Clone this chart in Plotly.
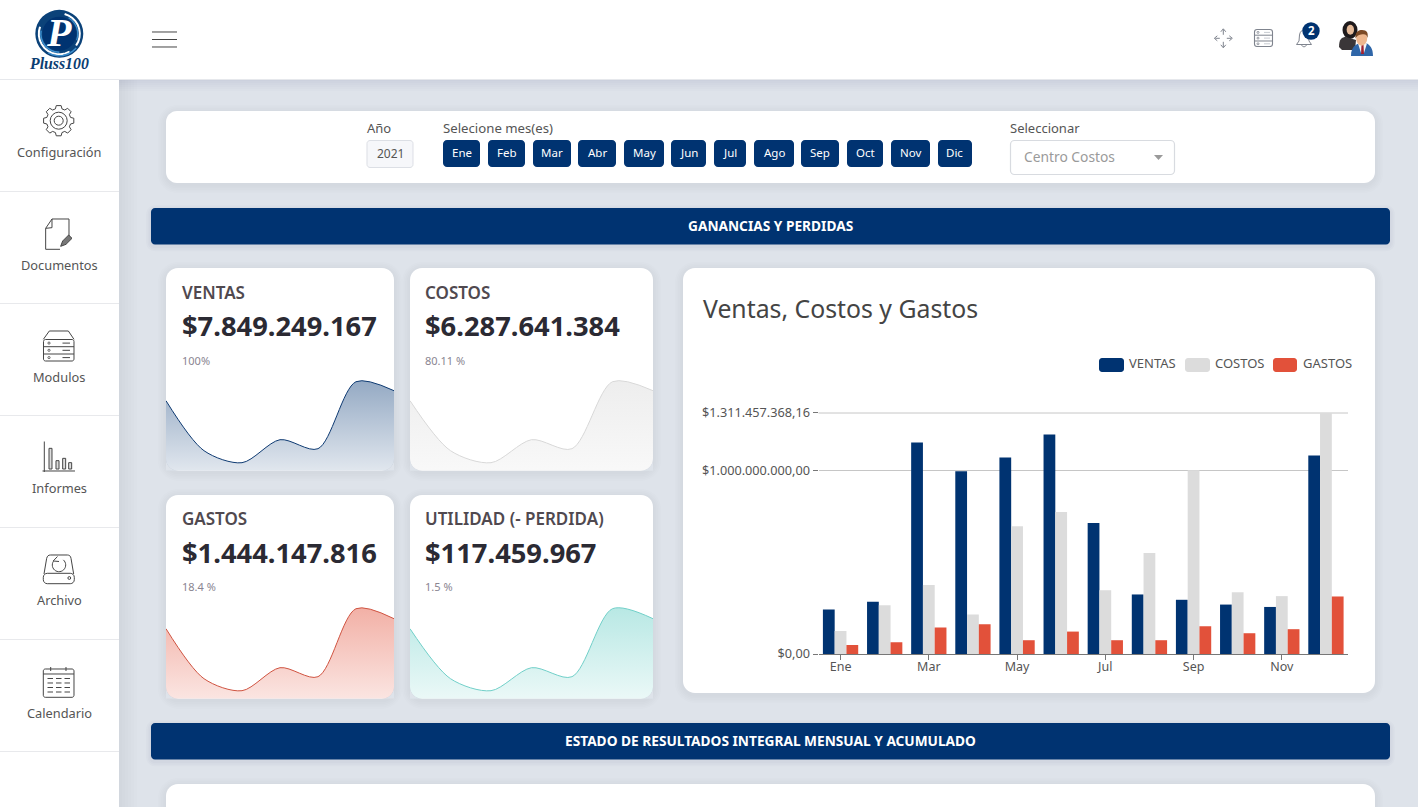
import math, re
import plotly.graph_objects as go

W, H = 1418, 807
FONT = "Noto Sans"
NAVY = "#003371"
BG = "#dee3ea"

# ---------- data ----------
months = ["Ene", "Feb", "Mar", "Abr", "May", "Jun", "Jul", "Ago", "Sep", "Oct", "Nov", "Dic"]
tick_months = ["Ene", "Mar", "May", "Jul", "Sep", "Nov"]
ventas = [242e6, 285e6, 1151e6, 995e6, 1069e6, 1195e6, 713e6, 324e6, 295e6, 269e6, 256e6, 1080e6]
costos = [125e6, 265e6, 376e6, 215e6, 695e6, 773e6, 347e6, 549e6, 1000e6, 336e6, 315e6, 1311.457e6]
gastos = [49e6, 64e6, 144e6, 162e6, 75e6, 122e6, 75e6, 75e6, 151e6, 113e6, 135e6, 313e6]
y_tickvals = [0, 1e9, 1311457368.16]
y_ticktext = ["$0,00", "$1.000.000.000,00", "$1.311.457.368,16"]
spark_x = [0, 1, 2, 3, 4, 5, 6]
spark_ventas = [70, 20, 8, 31, 22, 89, 80]
spark_costos = [70, 20, 8, 31, 22, 89, 80]
spark_gastos = [70, 20, 8, 31, 22, 90, 80]
spark_utilidad = [70, 20, 8, 31, 22, 90, 80]
button_months = months

# ---------- helpers ----------
def X(x): return x / W
def Y(y): return 1 - y / H

def conv(d):
    toks = re.findall(r"[MLCQZ]|-?\d+\.?\d*", d)
    res, i = [], 0
    while i < len(toks):
        if toks[i] in "MLCQZ":
            res.append(toks[i]); i += 1
        else:
            res.append(f"{X(float(toks[i])):.6f},{Y(float(toks[i + 1])):.6f} "); i += 2
    return "".join(res)

def rr(x0, y0, x1, y1, r):
    k = r * 0.45
    return (f"M{x0 + r} {y0} L{x1 - r} {y0} C{x1 - k} {y0} {x1} {y0 + k} {x1} {y0 + r} "
            f"L{x1} {y1 - r} C{x1} {y1 - k} {x1 - k} {y1} {x1 - r} {y1} "
            f"L{x0 + r} {y1} C{x0 + k} {y1} {x0} {y1 - k} {x0} {y1 - r} "
            f"L{x0} {y0 + r} C{x0} {y0 + k} {x0 + k} {y0} {x0 + r} {y0} Z")

shapes, annots = [], []

def path(d, fill=None, line=None, lw=1, layer="below"):
    s = dict(type="path", path=conv(d), xref="paper", yref="paper", layer=layer,
             line=dict(color=line or "rgba(0,0,0,0)", width=lw if line else 0))
    if fill: s["fillcolor"] = fill
    shapes.append(s)

def rect(x0, y0, x1, y1, fill=None, r=0, line=None, lw=1, layer="below"):
    path(rr(x0, y0, x1, y1, r) if r else f"M{x0} {y0} L{x1} {y0} L{x1} {y1} L{x0} {y1} Z", fill, line, lw, layer)

def circ(cx, cy, r, fill=None, line=None, lw=1, layer="below", ry=None):
    ry = ry or r
    s = dict(type="circle", xref="paper", yref="paper", x0=X(cx - r), x1=X(cx + r), y0=Y(cy + ry), y1=Y(cy - ry),
             layer=layer, line=dict(color=line or "rgba(0,0,0,0)", width=lw if line else 0))
    if fill: s["fillcolor"] = fill
    shapes.append(s)

def seg(x0, y0, x1, y1, color, lw=1):
    path(f"M{x0} {y0} L{x1} {y1}", None, color, lw)

def arc(cx, cy, r, a0, a1, color, lw=1):
    n = max(4, int(abs(a1 - a0) / 12))
    p = [(cx + r * math.cos(math.radians(a0 + (a1 - a0) * i / n)), cy + r * math.sin(math.radians(a0 + (a1 - a0) * i / n))) for i in range(n + 1)]
    path("M" + " L".join(f"{a:.2f} {b:.2f}" for a, b in p), None, color, lw)

def txt(x, y, t, size=12, color="#444", anchor="left", weight=None, family=FONT, italic=False):
    f = dict(size=size, color=color, family=family)
    if weight: f["weight"] = weight
    if italic: f["style"] = "italic"
    annots.append(dict(x=X(x), y=Y(y - 0.8), xref="paper", yref="paper", text=t, showarrow=False, font=f,
                       xanchor=anchor, yanchor="middle", borderpad=0, borderwidth=0))

def shadow(x0, y0, x1, y1, r, dy=2, steps=5, alpha=0.010):
    for i in range(steps, 0, -1):
        e = i * 1.6
        rect(x0 - e, y0 - e + dy, x1 + e, y1 + e + dy, f"rgba(60,70,90,{alpha})", r + e)

def card(x0, y0, x1, y1, r=12):
    shadow(x0, y0, x1, y1, r)
    rect(x0, y0, x1, y1, "#ffffff", r)

# ---------- page frame ----------
rect(0, 0, W, H, BG)
for i in range(6, 0, -1):
    rect(119, 79, 119 + i * 3, H, "rgba(80,90,110,0.012)")
    rect(119, 79, W, 79 + i * 2, "rgba(80,90,110,0.014)")
rect(0, 79, 119, H, "#ffffff")
rect(0, 0, W, 79, "#ffffff")
seg(0, 79.5, W, 79.5, "#e6e8ec", 1)

card(166, 111, 1375, 183, 11)
shadow(151, 208, 1390, 244.5, 4, 2, 3, 0.02)
rect(151, 208, 1390, 244.5, NAVY, 4)
card(166, 268, 394, 470.7)
card(410, 268, 653, 470.7)
card(166, 495, 394, 698.7)
card(410, 495, 653, 698.7)
card(683, 268, 1375, 693)
shadow(151, 723, 1390, 759.5, 4, 2, 3, 0.02)
rect(151, 723, 1390, 759.5, NAVY, 4)
card(166, 784, 1375, 830)

txt(770.5, 226, "GANANCIAS Y PERDIDAS", 13.7, "#ffffff", "center", 700)
txt(770.5, 741, "ESTADO DE RESULTADOS INTEGRAL MENSUAL Y ACUMULADO", 13.7, "#ffffff", "center", 700)

# filter bar
txt(367, 129, "Año", 13, "#555")
rect(367, 140.5, 413, 167.5, "#f6f7fa", 3, "#dcdfe5", 1)
txt(390, 154, "2021", 12, "#555", "center")
txt(443, 129, "Selecione mes(es)", 13.2, "#555")
btn_edges = [(443, 480), (488, 525), (533, 571), (578, 616), (624, 664), (671, 706),
             (714, 746), (754, 794), (801, 839), (847, 883), (891, 930), (938, 972)]
for m, (a, b) in zip(button_months, btn_edges):
    rect(a, 140, b, 167, NAVY, 4)
    txt((a + b) / 2, 153.5, m, 11.5, "#ffffff", "center")
txt(1010, 129, "Seleccionar", 13, "#555")
rect(1010.5, 140.5, 1174.5, 174.5, "#ffffff", 4, "#d8dbe0", 1.2)
txt(1024, 157, "Centro Costos", 13.8, "#9a9a9a")
path("M1154 155 L1163 155 L1158.5 160 Z", "#9a9a9a")

# KPI card texts
kpis = [(182, 292.8, "VENTAS", "$7.849.249.167", "100%"),
        (425, 292.8, "COSTOS", "$6.287.641.384", "80.11 %"),
        (182, 519.3, "GASTOS", "$1.444.147.816", "18.4 %"),
        (425, 519.3, "UTILIDAD (- PERDIDA)", "$117.459.967", "1.5 %")]
for x, y, a, b, c in kpis:
    txt(x, y, a, 17, "#50494f", weight=600)
    txt(x, y + 33.7, b, 27.3, "#2b2a33", weight=700)
    txt(x, y + 68, c, 11, "#8a8591")

# chart card texts
txt(703, 308.5, "Ventas, Costos y Gastos", 24.8, "#444444")
legend_items = [("VENTAS", NAVY, 1099, 1124, 1129), ("COSTOS", "#dcdcdc", 1185, 1210, 1215), ("GASTOS", "#e2513a", 1273, 1297, 1303)]
for name, col, a, b, tx in legend_items:
    rect(a, 358, b, 372, col, 3)
    txt(tx, 364, name, 13, "#555")
seg(818.5, 413, 1348, 413, "#c6c6c6", 1)

# sidebar labels / separators
for lab, y in [("Configuración", 153), ("Documentos", 266), ("Modulos", 378), ("Informes", 489), ("Archivo", 601), ("Calendario", 714)]:
    txt(59.5, y, lab, 12.8, "#555", "center")
for y in [191, 303, 415, 527, 639, 751]:
    seg(0, y + .5, 119, y + .5, "#e8e9ec", 1)

IC = "#454545"
pts = []
cx, cy = 58.7, 120.7
for i in range(8):
    a = i * math.pi / 4 - math.pi / 2
    for off, rad in [(-0.27, 12.3), (-0.16, 15.3), (0.16, 15.3), (0.27, 12.3)]:
        pts.append((cx + rad * math.cos(a + off), cy + rad * math.sin(a + off)))
path("M" + " L".join(f"{p[0]:.2f} {p[1]:.2f}" for p in pts) + " Z", None, IC, 1)
circ(cx, cy, 8.5, None, IC, 1)
circ(cx, cy, 4.5, None, IC, 1)
ox, oy = 20, 205
def z(x, y, ox, oy): return f"{ox + x / 3:.2f} {oy + y / 3:.2f}"
path(f"M{z(77,133,ox,oy)} L{z(77,70,ox,oy)} L{z(96,42,ox,oy)} L{z(147,42,ox,oy)} L{z(147,98,ox,oy)}", None, IC, 1)
path(f"M{z(77,70,ox,oy)} L{z(96,68,ox,oy)} L{z(96,42,ox,oy)}", None, IC, 1)
seg(45.7, 249.3, 60, 249.3, IC, 1)
path(f"M{z(122,124,ox,oy)} L{z(128,108,ox,oy)} L{z(146,90,ox,oy)} L{z(156,100,ox,oy)} L{z(138,118,ox,oy)} Z", "#777777", IC, 1)
path(f"M{z(70,403,ox,oy)} L{z(88,378,ox,oy)} L{z(145,378,ox,oy)} L{z(162,403,ox,oy)}", None, IC, 1)
rect(43.5, 339.5, 74, 361, None, 2, IC, 1)
for y in [339.5, 346.7, 354]:
    if y > 340:
        seg(43.5, y, 74, y, IC, 1)
    circ(49, y + 3.6, 1.1, None, IC, .8)
    seg(62.5, y + 3.6, 70, y + 3.6, IC, 1)
ox, oy = 20, 430
seg(44.3, 441.5, 44.3, 472, IC, 1)
seg(42.5, 471, 75, 471, IC, 1)
for a, b, t in [(87, 96, 55), (108, 117, 92), (128, 137, 85), (146, 155, 98)]:
    rect(ox + a / 3, oy + t / 3, ox + b / 3, oy + 117 / 3, "#dddddd", 0, IC, 1)
path(f"M{z(72,432,ox,oy)} L{z(80,385,ox,oy)} C{z(82,378,ox,oy)} {z(85,375,ox,oy)} {z(92,375,ox,oy)} L{z(142,375,ox,oy)} C{z(148,375,ox,oy)} {z(152,378,ox,oy)} {z(153,385,ox,oy)} L{z(161,432,ox,oy)}", None, IC, 1)
rect(43.3, 573.3, 74.3, 583.7, None, 4, IC, 1)
circ(69.3, 578, 1.4, None, IC, 1)
arc(59, 565, 6.7, -50, 215, IC, 1)
path("M57.5 556.5 L53.2 561 L59 561.5", None, IC, 1)
rect(43.3, 669, 74, 697.3, None, 2, IC, 1)
seg(43.3, 674, 74, 674, IC, 1)
for x in [50.7, 66]:
    seg(x, 667, x, 671, IC, 1)
for y in [678.5, 683, 687.5, 692]:
    for a, b in [(47.5, 53), (56, 61.5), (64.5, 70)]:
        seg(a, y, b, y, IC, 1)

for y in [32, 39.5, 47]:
    seg(152, y, 177, y, "#444444", 1)

G = "#7f848e"
cx, cy = 1223.3, 38.3
seg(cx - 8, cy, cx - 3.5, cy, G); seg(cx + 3.5, cy, cx + 8, cy, G)
seg(cx, cy - 9, cx, cy - 3.5, G); seg(cx, cy + 3.5, cx, cy + 9, G)
for d in [f"M{cx-6} {cy-2.5} L{cx-9} {cy} L{cx-6} {cy+2.5}", f"M{cx+6} {cy-2.5} L{cx+9} {cy} L{cx+6} {cy+2.5}",
          f"M{cx-2.5} {cy-6.5} L{cx} {cy-9.5} L{cx+2.5} {cy-6.5}", f"M{cx-2.5} {cy+6.5} L{cx} {cy+9.5} L{cx+2.5} {cy+6.5}"]:
    path(d, None, G, 1)
rect(1254.5, 29.5, 1272.5, 46.5, None, 2.5, G, 1.1)
for y in [35.2, 41]:
    seg(1254.5, y, 1272.5, y, G, 1)
for y in [32.4, 38.1, 43.8]:
    circ(1258, y, 1, None, G, .8)
    seg(1264, y, 1270, y, "#c8ccd2", 1)
path("M1296.5 44.5 L1299 41 L1299.5 35 C1300 31.5 1302 30 1304 30 C1306 30 1308 31.5 1308.5 35 L1309 41 L1311.5 44.5 Z", None, G, 1)
path("M1301.5 44.5 C1302 47.5 1306 47.5 1306.5 44.5", None, G, 1)
circ(1311, 31, 8.7, NAVY)
txt(1311, 31, "2", 11.5, "#ffffff", "center", 700)

# avatar
ox, oy = 1335, 15
def av(x, y): return ox + x / 3, oy + y / 3
x, y = av(45, 45); circ(x, y, 7.5, "#1e1a1c", ry=9)
path("M1339 47 C1339 39 1342 37 1346 37 L1356 40 L1355 50 L1342 50 Z", "#3a3638")
x, y = av(46, 44); circ(x, y, 3.7, "#e5bb9a", ry=5)
path("M1351 56 C1351 46 1357 44 1360 43 L1366 43 C1370 45 1373 48 1373 56 Z", "#2f66a8")
path("M1358 43.5 L1361 53 L1364 53 L1367 43.5 L1363 42 Z", "#f5f5f5")
path("M1361.5 45 L1363.5 45 L1364 54 L1361 54 Z", "#a02030")
x, y = av(80, 71); circ(x, y, 5.5, "#eeb78e", ry=7)
path("M1355.5 38.5 C1355 31 1359 30 1362 30 C1367 30 1368.5 33 1367.5 38 C1366.5 34 1365 34 1361 34.5 C1358 35 1357 36 1355.5 38.5 Z", "#7c4a26")

# logo
circ(59.3, 33.8, 24, "#0b4279")
arc(59.3, 33.8, 20.5, -75, 35, "#ffffff", 2)
arc(59.3, 33.8, 20.5, 60, 200, "#ffffff", 2)
arc(59.3, 33.8, 22, 40, 120, "#3d8fce", 1.5)
arc(59.3, 33.8, 18.5, -60, 20, "#3d8fce", 1.2)
arc(59.3, 33.8, 18.5, 90, 190, "#3d8fce", 1.5)
circ(59.3, 33.8, 17, NAVY)
txt(59.5, 33.5, "P", 40, "#ffffff", "center", 700, "Liberation Serif", True)
txt(59.5, 64, "Pluss100", 15.8, "#0b3d72", "center", 700, "Liberation Serif", True)

# ---------- traces ----------
fig = go.Figure()
fig.add_trace(go.Bar(x=months, y=ventas, name="VENTAS", marker=dict(color=NAVY, line=dict(width=0))))
fig.add_trace(go.Bar(x=months, y=costos, name="COSTOS", marker=dict(color="#dcdcdc", line=dict(width=0))))
fig.add_trace(go.Bar(x=months, y=gastos, name="GASTOS", marker=dict(color="#e2513a", line=dict(width=0))))

sparks = [
    (spark_ventas, "#0e3a72", "rgba(0,51,113,0.42)", "rgba(0,51,113,0.12)", 166, 394, 470.7),
    (spark_costos, "#d8d8d8", "rgba(200,200,200,0.32)", "rgba(200,200,200,0.12)", 410, 653, 470.7),
    (spark_gastos, "#cf5340", "rgba(226,81,58,0.45)", "rgba(226,81,58,0.15)", 166, 394, 698.7),
    (spark_utilidad, "#70cfc8", "rgba(70,195,185,0.38)", "rgba(70,195,185,0.11)", 410, 653, 698.7),
]
layout_axes = {}
for i, (vals, lc, top, bot, a, b, base) in enumerate(sparks, start=2):
    fig.add_trace(go.Scatter(x=spark_x, y=vals, mode="lines", xaxis=f"x{i}", yaxis=f"y{i}",
                             line=dict(color=lc, width=1, shape="spline", smoothing=0.85),
                             fill="tozeroy",
                             fillgradient=dict(type="vertical", start=0, stop=90,
                                               colorscale=[[0, bot], [1, top]]),
                             hoverinfo="skip"))
    layout_axes[f"xaxis{i}"] = dict(domain=[X(a), X(b)], range=[0, 6], visible=False, anchor=f"y{i}", fixedrange=True)
    layout_axes[f"yaxis{i}"] = dict(domain=[Y(base), Y(base - 100)], range=[0, 100], visible=False, anchor=f"x{i}", fixedrange=True)
    r = 12
    k = r * 0.45
    path(f"M{a} {base - r} C{a} {base - k} {a + k} {base} {a + r} {base} L{a} {base} Z", BG, layer="above")
    path(f"M{b} {base - r} C{b} {base - k} {b - k} {base} {b - r} {base} L{b} {base} Z", BG, layer="above")

fig.update_layout(
    width=W, height=H, autosize=False, showlegend=False,
    margin=dict(l=0, r=0, t=0, b=0, pad=0, autoexpand=False),
    paper_bgcolor=BG, plot_bgcolor="rgba(0,0,0,0)",
    barmode="group", bargap=0.2, bargroupgap=0,
    font=dict(family=FONT, size=12, color="#555"),
    shapes=shapes, annotations=annots,
    xaxis=dict(domain=[X(818.5), X(1348)], type="category", categoryorder="array", categoryarray=months,
               tickmode="array", tickvals=tick_months, ticktext=tick_months,
               ticks="outside", ticklen=5, tickcolor="#777", tickwidth=1, ticklabelstandoff=-4,
               showline=True, linecolor="#777777", linewidth=1, showgrid=False,
               tickfont=dict(size=12.5, color="#555", family=FONT), anchor="y", fixedrange=True),
    yaxis=dict(domain=[Y(654), Y(412.8)], range=[0, 1312500000],
               tickmode="array", tickvals=y_tickvals, ticktext=y_ticktext,
               ticks="outside", ticklen=5, tickcolor="#777", tickwidth=1,
               showgrid=True, gridcolor="#c6c6c6", gridwidth=1, zeroline=False, showline=False,
               tickfont=dict(size=12.7, color="#555", family=FONT), anchor="x", fixedrange=True),
    **layout_axes,
)

fig.write_html("out.html", config=dict(displayModeBar=False),
               post_script="document.body.style.margin='0';document.body.style.overflow='hidden';")
